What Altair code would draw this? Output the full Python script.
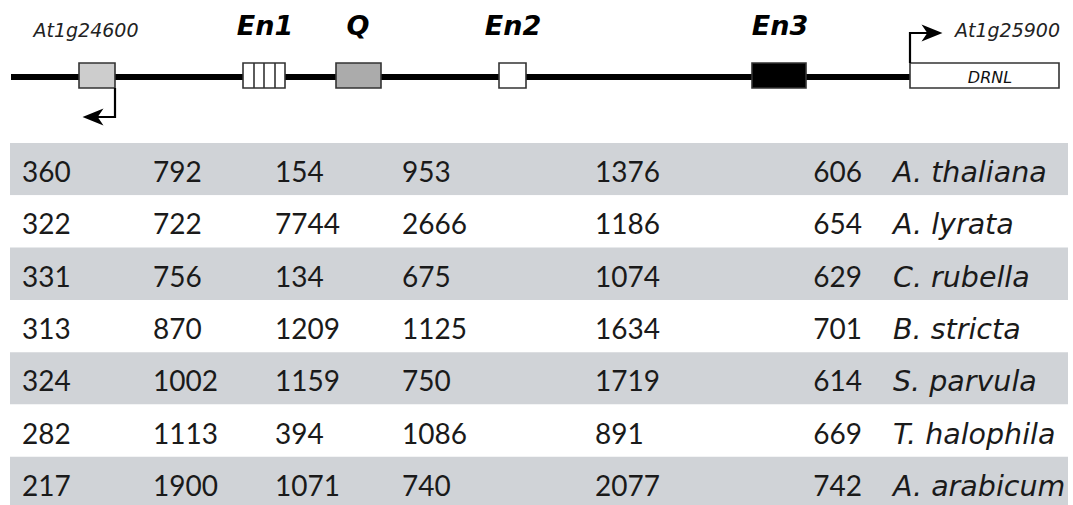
import altair as alt
import pandas as pd

# ---- gene map (positions along the drawn locus, in layout units) ----
feat_names = ["At1g24600", "En1", "Q", "En2", "En3", "DRNL"]
feat_start = [79, 243, 336, 499, 752, 910]
feat_end = [115, 285, 381, 526, 806, 1059]
feat_fill = ["#cdcdcd", "#ffffff", "#ababab", "#ffffff", "#000000", "#ffffff"]
en1_stripes = [254, 264, 275]

backbone_start, backbone_end = 11, 910

label_text = ["At1g24600", "En1", "Q", "En2", "En3", "At1g25900"]
label_x = [86, 265, 358, 513, 780, 955]
label_align = ["center", "center", "center", "center", "center", "left"]
label_bold = [False, True, True, True, True, False]

# ---- table ----
species = ["A. thaliana", "A. lyrata", "C. rubella", "B. stricta",
           "S. parvula", "T. halophila", "A. arabicum"]
col1 = [360, 322, 331, 313, 324, 282, 217]
col2 = [792, 722, 756, 870, 1002, 1113, 1900]
col3 = [154, 7744, 134, 1209, 1159, 394, 1071]
col4 = [953, 2666, 675, 1125, 750, 1086, 740]
col5 = [1376, 1186, 1074, 1634, 1719, 891, 2077]
col6 = [606, 654, 629, 701, 614, 669, 742]

W, H = 1073, 505
TRACK_Y = 77
BOX_TOP, BOX_BOT = 63, 88
TABLE_TOP, ROW_H = 143, 52.3
col_left_x = [22, 153, 275, 402, 595]
col6_right_x = 862
species_x = 893

xs = alt.Scale(domain=[0, W], nice=False, zero=False)
ys = alt.Scale(domain=[0, H], nice=False, zero=False, reverse=True)


def X(f, **kw):
    return alt.X(f, type="quantitative", scale=xs, axis=None, **kw)


def Y(f, **kw):
    return alt.Y(f, type="quantitative", scale=ys, axis=None, **kw)


# table bands (every other row shaded)
bands = pd.DataFrame({
    "x0": [10] * len(species),
    "x1": [1068] * len(species),
    "y0": [TABLE_TOP + i * ROW_H for i in range(len(species))],
    "y1": [TABLE_TOP + (i + 1) * ROW_H for i in range(len(species))],
    "shade": ["#d0d3d7" if i % 2 == 0 else "#ffffff" for i in range(len(species))],
})
band_layer = alt.Chart(bands).mark_rect().encode(
    x=X("x0"), x2="x1", y=Y("y0"), y2="y1",
    color=alt.Color("shade:N", scale=None),
)

# numeric cells
cols = [col1, col2, col3, col4, col5]
cells = []
for c, (vals, cx) in enumerate(zip(cols, col_left_x)):
    for i, v in enumerate(vals):
        cells.append({"x": cx, "y": TABLE_TOP + i * ROW_H + 39, "t": str(v)})
cells_df = pd.DataFrame(cells)
cell_layer = alt.Chart(cells_df).mark_text(
    align="left", baseline="alphabetic", font="Lato", fontSize=28, color="#1a1a1a"
).encode(x=X("x"), y=Y("y"), text="t:N")

c6 = pd.DataFrame({
    "x": [col6_right_x] * len(col6),
    "y": [TABLE_TOP + i * ROW_H + 39 for i in range(len(col6))],
    "t": [str(v) for v in col6],
})
c6_layer = alt.Chart(c6).mark_text(
    align="right", baseline="alphabetic", font="Lato", fontSize=28, color="#1a1a1a"
).encode(x=X("x"), y=Y("y"), text="t:N")

sp = pd.DataFrame({
    "x": [species_x] * len(species),
    "y": [TABLE_TOP + i * ROW_H + 39 for i in range(len(species))],
    "t": species,
})
sp_layer = alt.Chart(sp).mark_text(
    align="left", baseline="alphabetic", font="DejaVu Sans", fontSize=28.5,
    fontStyle="italic", color="#1a1a1a"
).encode(x=X("x"), y=Y("y"), text="t:N")

# backbone line
bb = pd.DataFrame({"x0": [backbone_start], "x1": [backbone_end], "y": [TRACK_Y]})
bb_layer = alt.Chart(bb).mark_rule(strokeWidth=6, color="#000000").encode(
    x=X("x0"), x2="x1", y=Y("y"))

# feature boxes
feats = pd.DataFrame({
    "name": feat_names, "x0": feat_start, "x1": feat_end,
    "y0": [BOX_TOP] * 6, "y1": [BOX_BOT] * 6, "fill": feat_fill,
})
box_layer = alt.Chart(feats).mark_rect(stroke="#333333", strokeWidth=1.6).encode(
    x=X("x0"), x2="x1", y=Y("y0"), y2="y1",
    color=alt.Color("fill:N", scale=None),
)

# stripes inside En1
st = pd.DataFrame({"x": en1_stripes, "y0": [BOX_TOP] * 3, "y1": [BOX_BOT] * 3})
stripe_layer = alt.Chart(st).mark_rule(strokeWidth=1.6, color="#333333").encode(
    x=X("x"), y=Y("y0"), y2="y1")

# transcription-start arrows (elbow shafts)
arrows = pd.DataFrame({
    "gene": ["left"] * 3 + ["right"] * 3,
    "step": [0, 1, 2, 0, 1, 2],
    "x": [115, 115, 95, 910, 910, 930],
    "y": [88, 117, 117, 63, 33, 33],
})
shaft_layer = alt.Chart(arrows).mark_line(
    strokeWidth=2.2, color="#000000", strokeJoin="miter", strokeCap="butt"
).encode(x=X("x"), y=Y("y"), detail="gene:N", order="step:Q")

head_left = pd.DataFrame({"x": [93], "y": [117]})
head_left_layer = alt.Chart(head_left).mark_point(
    shape="M-1,0L1,-0.8L0.45,0L1,0.8Z", filled=True, size=440,
    color="#000000", opacity=1, strokeWidth=0
).encode(x=X("x"), y=Y("y"))

head_right = pd.DataFrame({"x": [932], "y": [33]})
head_right_layer = alt.Chart(head_right).mark_point(
    shape="M1,0L-1,-0.8L-0.45,0L-1,0.8Z", filled=True, size=440,
    color="#000000", opacity=1, strokeWidth=0
).encode(x=X("x"), y=Y("y"))

# labels above the map
lab_plain = pd.DataFrame({
    "x": [label_x[i] for i in range(6) if not label_bold[i]],
    "t": [label_text[i] for i in range(6) if not label_bold[i]],
    "a": [label_align[i] for i in range(6) if not label_bold[i]],
    "y": [37, 37],
})
plain_left = alt.Chart(lab_plain[lab_plain.a == "center"]).mark_text(
    align="center", baseline="alphabetic", font="DejaVu Sans", fontSize=19,
    fontStyle="italic", color="#222222"
).encode(x=X("x"), y=Y("y"), text="t:N")
plain_right = alt.Chart(lab_plain[lab_plain.a == "left"]).mark_text(
    align="left", baseline="alphabetic", font="DejaVu Sans", fontSize=19,
    fontStyle="italic", color="#222222"
).encode(x=X("x"), y=Y("y"), text="t:N")

lab_bold = pd.DataFrame({
    "x": [label_x[i] for i in range(6) if label_bold[i]],
    "t": [label_text[i] for i in range(6) if label_bold[i]],
    "y": [35] * 4,
})
bold_layer = alt.Chart(lab_bold).mark_text(
    align="center", baseline="alphabetic", font="DejaVu Sans", fontSize=27,
    fontStyle="italic", fontWeight="bold", color="#000000"
).encode(x=X("x"), y=Y("y"), text="t:N")

drnl = pd.DataFrame({"x": [990], "y": [83], "t": ["DRNL"]})
drnl_layer = alt.Chart(drnl).mark_text(
    align="center", baseline="alphabetic", font="DejaVu Sans", fontSize=16,
    fontStyle="italic", color="#111111"
).encode(x=X("x"), y=Y("y"), text="t:N")

chart = alt.layer(
    band_layer, cell_layer, c6_layer, sp_layer,
    bb_layer, box_layer, stripe_layer,
    shaft_layer, head_left_layer, head_right_layer,
    plain_left, plain_right, bold_layer, drnl_layer,
).properties(
    width=W, height=H, padding=0, background="#ffffff",
    autosize=alt.AutoSizeParams(type="none"),
).configure_view(stroke=None)

chart.save("out.html", embed_options={"renderer": "svg", "actions": False})
